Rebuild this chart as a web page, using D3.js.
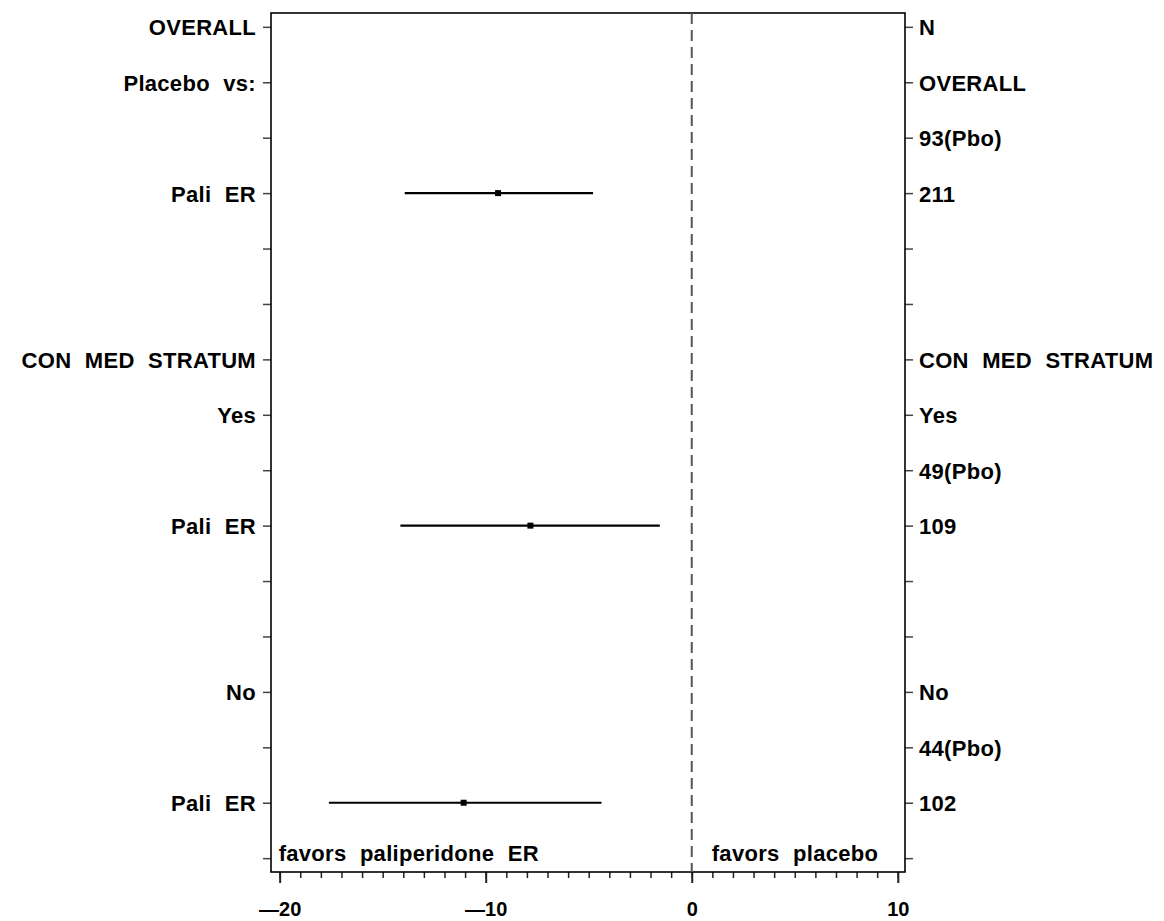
<!DOCTYPE html>
<html>
<head>
<meta charset="utf-8">
<script src="https://cdn.jsdelivr.net/npm/d3@7"></script>
<style>
  html, body { margin: 0; padding: 0; background: #fff; }
  svg { display: block; }
  text { font-family: "Liberation Sans", Arial, sans-serif; font-weight: bold; fill: #000; }
</style>
</head>
<body>
<svg id="chart" width="1164" height="921"></svg>
<script>
// ---- data ----
const rows = [1,2,3,4,5,6,7,8,9,10,11,12,13,14,15,16];
const leftLabels  = ["OVERALL","Placebo vs:","","Pali ER","","","CON MED STRATUM","Yes","","Pali ER","","","No","","Pali ER",""];
const rightLabels = ["N","OVERALL","93(Pbo)","211","","","CON MED STRATUM","Yes","49(Pbo)","109","","","No","44(Pbo)","102",""];
const pointRows = [4, 10, 15];
const estimates = [-9.40, -7.83, -11.07];
const lowerCI   = [-13.93, -14.14, -17.61];
const upperCI   = [-4.79, -1.55, -4.38];
const majorTicks = [-20, -10, 0, 10];
const minorTicks = d3.range(-20, 11, 1);
const leftNote = "favors paliperidone ER";
const rightNote = "favors placebo";

// ---- layout ----
const L = 271, R = 905, T = 13, B = 872;
const svg = d3.select("#chart");
const x = d3.scaleLinear().domain([-20.42, 10.35]).range([L, R]);
const y = d3.scaleLinear().domain([0.75, 16.25]).range([T, B]);
const labelStyle = sel => sel.attr("font-size", 22)
  .attr("font-family", "Liberation Sans, Arial, sans-serif")
  .attr("font-weight", "bold").attr("fill", "#000")
  .style("word-spacing", "7px").style("letter-spacing", "0.3px");

// minor x ticks
const gMinor = svg.append("g").attr("transform", `translate(0,${B})`)
  .call(d3.axisBottom(x).tickValues(minorTicks).tickSize(6).tickFormat(""));
gMinor.select(".domain").remove();
gMinor.selectAll("line").attr("stroke", "#222").attr("stroke-width", 1.5);

// major x ticks with labels
const gMajor = svg.append("g").attr("transform", `translate(0,${B})`)
  .call(d3.axisBottom(x).tickValues(majorTicks).tickSize(11).tickPadding(19)
        .tickFormat(d => d < 0 ? "\u2014" + Math.abs(d) : String(d)));
gMajor.select(".domain").remove();
gMajor.selectAll("line").attr("stroke", "#222").attr("stroke-width", 2);
gMajor.selectAll("text").attr("font-size", 20).attr("font-family", "Liberation Sans, Arial, sans-serif")
  .attr("font-weight", "bold").attr("fill", "#000");

// left axis
const gLeft = svg.append("g").attr("transform", `translate(${L},0)`)
  .call(d3.axisLeft(y).tickValues(rows).tickSize(8).tickPadding(7)
        .tickFormat((d, i) => leftLabels[i]));
gLeft.select(".domain").remove();
gLeft.selectAll("line").attr("stroke", "#444").attr("stroke-width", 1.5);
gLeft.selectAll("text").call(labelStyle).attr("dy", "0.36em");

// right axis
const gRight = svg.append("g").attr("transform", `translate(${R},0)`)
  .call(d3.axisRight(y).tickValues(rows).tickSize(8).tickPadding(6)
        .tickFormat((d, i) => rightLabels[i]));
gRight.select(".domain").remove();
gRight.selectAll("line").attr("stroke", "#444").attr("stroke-width", 1.5);
gRight.selectAll("text").call(labelStyle).attr("dy", "0.36em");

// frame
svg.append("rect").attr("x", L).attr("y", T).attr("width", R - L).attr("height", B - T)
  .attr("fill", "none").attr("stroke", "#000").attr("stroke-width", 1.6);

// reference line at 0
svg.append("line").attr("x1", x(0)).attr("x2", x(0)).attr("y1", T).attr("y2", B)
  .attr("stroke", "#555").attr("stroke-width", 2).attr("stroke-dasharray", "11,6");

// CIs
const pts = pointRows.map((r, i) => ({ r, est: estimates[i], lo: lowerCI[i], hi: upperCI[i] }));
svg.append("g").selectAll("line").data(pts).join("line")
  .attr("x1", d => x(d.lo)).attr("x2", d => x(d.hi))
  .attr("y1", d => y(d.r)).attr("y2", d => y(d.r))
  .attr("stroke", "#000").attr("stroke-width", 2.2);
svg.append("g").selectAll("path").data(pts).join("path")
  .attr("transform", d => `translate(${x(d.est)},${y(d.r)})`)
  .attr("d", d3.symbol(d3.symbolSquare, 36))
  .attr("fill", "#000");

// notes
svg.append("text").attr("x", x(-20) - 1).attr("y", 861).call(labelStyle).text(leftNote);
svg.append("text").attr("x", x(0) + 20).attr("y", 861).call(labelStyle).text(rightNote);
</script>
</body>
</html>
